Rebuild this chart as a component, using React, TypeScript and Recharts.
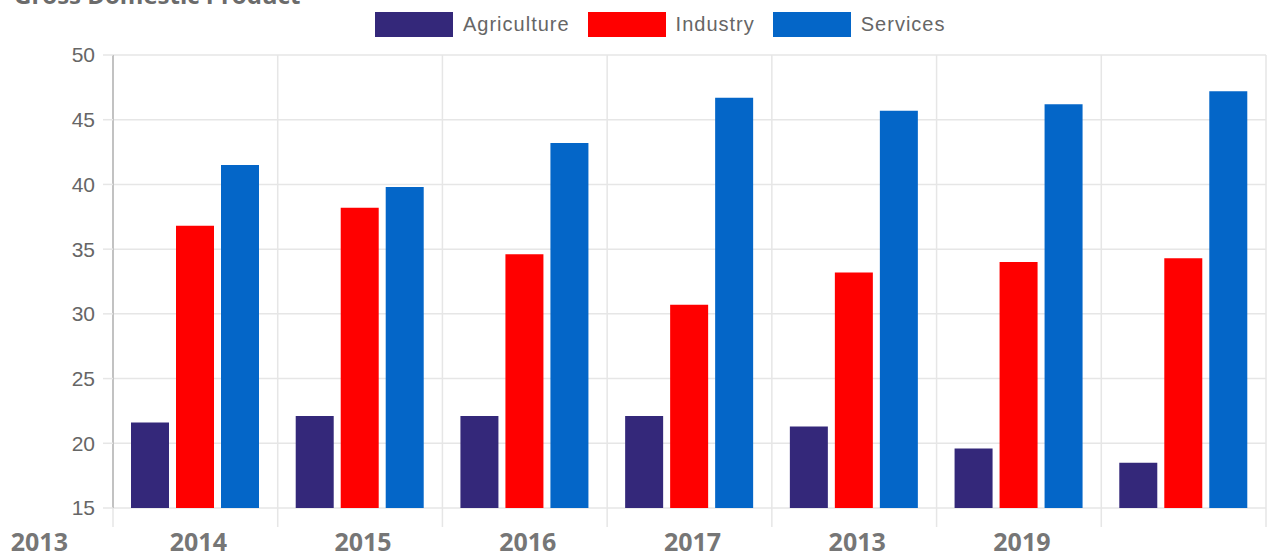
import { BarChart, Bar, XAxis, YAxis, CartesianGrid } from "recharts";

const categories = ["2014", "2015", "2016", "2017", "2013", "2019", ""];
const leadingLabel = "2013";
const agriculture = [21.6, 22.1, 22.1, 22.1, 21.3, 19.6, 18.5];
const industry = [36.8, 38.2, 34.6, 30.7, 33.2, 34.0, 34.3];
const services = [41.5, 39.8, 43.2, 46.7, 45.7, 46.2, 47.2];
const yTicks = [15, 20, 25, 30, 35, 40, 45, 50];

const SERIES = [
  { key: "agriculture", label: "Agriculture", color: "#34287a" },
  { key: "industry", label: "Industry", color: "#ff0000" },
  { key: "services", label: "Services", color: "#0466c8" },
];

const data = categories.map((name, i) => ({
  name,
  agriculture: agriculture[i],
  industry: industry[i],
  services: services[i],
}));

const GRID = "#e6e6e6";

// vertical grid lines sit on the band edges, not on the band centres
const bandEdgeLines = ({ offset }: any) =>
  Array.from({ length: categories.length + 1 }, (_, i) => offset.left + (i * offset.width) / categories.length);

function YearTick({ x, y, payload, index, visibleTicksCount }: any) {
  const style = { fontFamily: "'Open Sans', sans-serif", fontWeight: 700, fontSize: 25, fill: "#767676" };
  const half = payload.offset ?? 0;
  return (
    <g>
      {/* short grid stubs under the plot, like chart.js tick marks */}
      {half > 0 && <line x1={x - half} x2={x - half} y1={y} y2={y + 19} stroke={GRID} strokeWidth={1.5} />}
      {half > 0 && index === visibleTicksCount - 1 && (
        <line x1={x + half} x2={x + half} y1={y} y2={y + 19} stroke={GRID} strokeWidth={1.5} />
      )}
      {index === 0 && (
        <text x={x - 156} y={y} dy={43} textAnchor="middle" style={style}>
          {leadingLabel}
        </text>
      )}
      <text x={x + 3} y={y} dy={43} textAnchor="middle" style={style}>
        {payload.value}
      </text>
    </g>
  );
}

const NoLabel = () => <g />;

export default function App() {
  return (
    <div style={{ position: "absolute", left: 0, top: 0, width: 1284, height: 556, overflow: "hidden", background: "#fff" }}>
      <div
        style={{
          position: "absolute", left: 14, top: -17, fontFamily: "'Open Sans', sans-serif",
          fontWeight: 700, fontSize: 24, lineHeight: "24px", color: "#6b6b6b", whiteSpace: "nowrap",
        }}
      >
        Gross Domestic Product
      </div>

      {/* legend */}
      <div style={{ position: "absolute", left: 375, top: 12, display: "flex", alignItems: "center" }}>
        {SERIES.map(s => (
          <div key={s.key} style={{ display: "flex", alignItems: "center", marginRight: 18 }}>
            <div style={{ width: 78, height: 25, background: s.color, marginRight: 10 }} />
            <span
              style={{
                fontFamily: "'Liberation Sans', Arial, sans-serif", fontSize: 20, letterSpacing: 1,
                color: "#666", lineHeight: "25px",
              }}
            >
              {s.label}
            </span>
          </div>
        ))}
      </div>

      <BarChart
        width={1284}
        height={556}
        data={data}
        margin={{ top: 55, right: 0, bottom: 0, left: 0 }}
        barSize={38}
        barGap={7}
      >
        <CartesianGrid stroke={GRID} strokeWidth={1.5} verticalCoordinatesGenerator={bandEdgeLines} />
        <XAxis
          dataKey="name"
          height={48}
          axisLine={false}
          tickLine={false}
          tickSize={0}
          tickMargin={0}
          interval={0}
          tick={<YearTick />}
        />
        <YAxis
          domain={[15, 50]}
          ticks={yTicks}
          width={113}
          tickSize={10}
          tickMargin={8}
          axisLine={{ stroke: "#b5b5b5", strokeWidth: 1.5 }}
          tickLine={{ stroke: GRID, strokeWidth: 1.5 }}
          tick={{ fill: "#666", fontSize: 21, fontFamily: "'Liberation Sans', Arial, sans-serif" }}
        />
        <YAxis
          yAxisId="edge"
          orientation="right"
          domain={[15, 50]}
          ticks={yTicks}
          width={18}
          tickSize={18}
          tick={<NoLabel />}
          axisLine={false}
          tickLine={{ stroke: GRID, strokeWidth: 1.5 }}
        />
        {SERIES.map(s => (
          <Bar key={s.key} dataKey={s.key} fill={s.color} isAnimationActive={false} />
        ))}
      </BarChart>
    </div>
  );
}
